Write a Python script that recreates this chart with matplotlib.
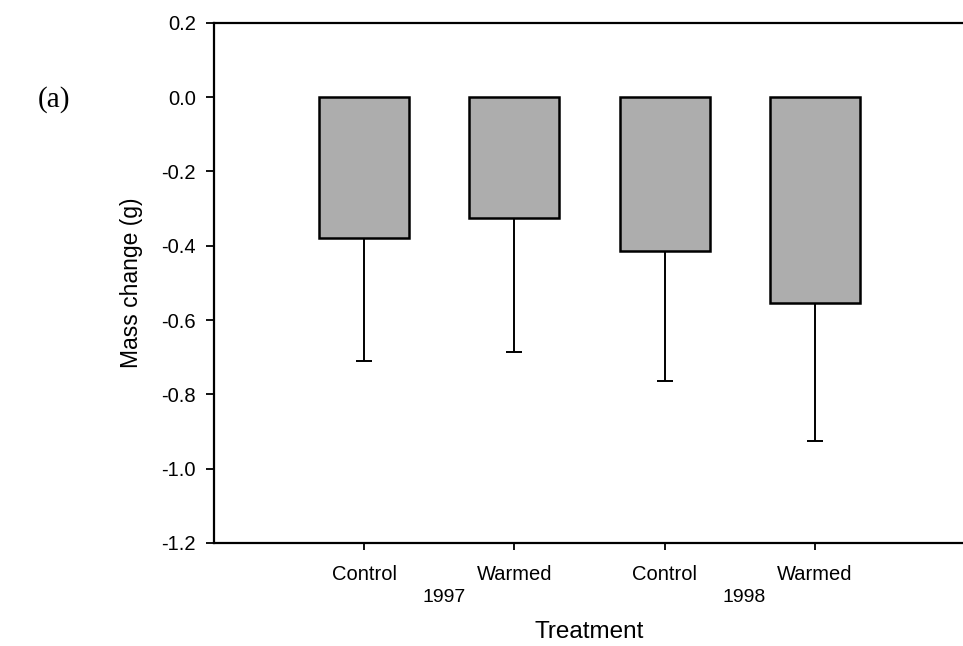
import matplotlib
matplotlib.use("Agg")
import matplotlib.pyplot as plt
from matplotlib.transforms import blended_transform_factory

# Mean mass change and lower error per treatment group
positions = [1, 2, 3, 4]
tick_labels = ["Control", "Warmed", "Control", "Warmed"]
years = ["1997", "1998"]
year_positions = [1.53, 3.53]
mass_change = [-0.38, -0.325, -0.415, -0.555]
lower_error = [0.33, 0.36, 0.35, 0.37]

plt.rcParams["font.family"] = ["Liberation Sans", "DejaVu Sans"]

fig = plt.figure(figsize=(9.63, 6.46), dpi=100)
ax = fig.add_axes([214 / 963, 1 - 543 / 646, (965 - 214) / 963, (543 - 22.7) / 646])

ax.bar(positions, mass_change, width=0.6, color="#adadad", edgecolor="black",
       linewidth=1.8, zorder=2)
ax.errorbar(positions, mass_change, yerr=[lower_error, [0] * len(lower_error)],
            fmt="none", ecolor="black", elinewidth=1.4, capsize=5.8, capthick=1.4,
            zorder=1)

ax.set_xlim(0, 5)
ax.set_ylim(-1.2, 0.2)
ax.set_yticks([0.2, 0.0, -0.2, -0.4, -0.6, -0.8, -1.0, -1.2])
ax.set_yticklabels(["0.2", "0.0", "-0.2", "-0.4", "-0.6", "-0.8", "-1.0", "-1.2"])
ax.set_xticks(positions)
ax.set_xticklabels(tick_labels)

ax.tick_params(axis="y", direction="out", length=6, width=1.3, pad=7, labelsize=14.5)
ax.tick_params(axis="x", direction="out", length=5, width=1.3, pad=11, labelsize=14.5)

for side in ("left", "bottom", "top"):
    ax.spines[side].set_linewidth(1.6)
ax.spines["right"].set_visible(False)

trans = blended_transform_factory(ax.transData, fig.transFigure)
for yr, xp in zip(years, year_positions):
    ax.text(xp, 1 - 597 / 646, yr, transform=trans, ha="center", va="center",
            fontsize=14)

ax.set_ylabel("Mass change (g)", fontsize=16.5)
ax.yaxis.set_label_coords(-0.094, 0.5)
fig.text((214 + 965) / 2 / 963, 1 - 632 / 646, "Treatment", ha="center",
         va="center", fontsize=17.5)

fig.text(38 / 963, 1 - 100 / 646, "(a)", family=["Liberation Serif", "DejaVu Serif"],
         fontsize=21, ha="left", va="center")

fig.savefig("out.png", dpi=100)
